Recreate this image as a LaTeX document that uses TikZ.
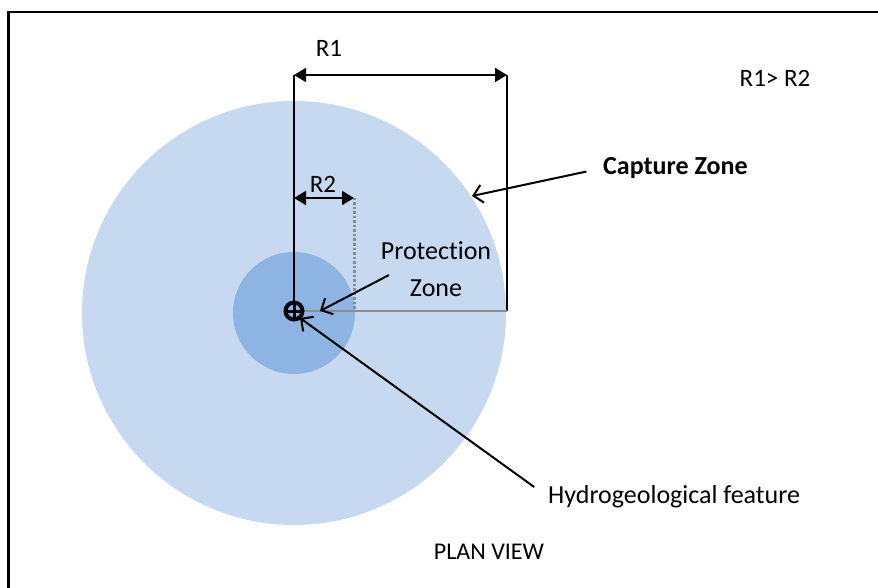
\documentclass[tikz,border=0pt]{standalone}
\usepackage{fontspec}
\setmainfont{Carlito}[Ligatures=NoCommon]
\usetikzlibrary{arrows.meta}
\definecolor{capturezone}{HTML}{C6D9F1}
\definecolor{protectzone}{HTML}{8EB4E3}
\definecolor{guidegray}{HTML}{8C8C8C}
\newcommand{\bigfont}{\fontsize{26}{31}\selectfont}
\newcommand{\smallfont}{\fontsize{25}{30}\selectfont}
\tikzset{
	biglabel/.style={font=\bigfont, inner sep=0pt},
	smalllabel/.style={font=\smallfont, inner sep=0pt},
	pointer/.style={line width=2pt, -{Straight Barb[length=9pt, width=18pt, line width=2pt]}},
	radius arrow/.style={line width=2pt, {Triangle[length=12pt, width=14pt]}-{Triangle[length=12pt, width=14pt]}},
}

\begin{document}
\begin{tikzpicture}[x=1pt,y=-1pt]
	% Page frame; right and bottom edges run off the page.
	\clip (0,0) rectangle (878,588);
	\fill[white] (0,0) rectangle (878,588);
	\draw[line width=2.5pt] (8.5,12) rectangle (900,620);

	% Zones around the feature.
	\fill[capturezone] (294,313) circle[radius=212];
	\fill[protectzone] (294,313) circle[radius=61];

	% Guides for the two radii.
	\coordinate (well) at (294,311);
	\coordinate (r1 left) at (294,75);
	\coordinate (r1 right) at (507,75);
	\coordinate (r1 base) at (507,311);
	\coordinate (r2 left) at (294,198);
	\coordinate (r2 right) at (354,198);
	\coordinate (r2 base) at (354,311);
	\draw[line width=1.5pt] (r1 left) -- (well);
	\draw[line width=1.5pt] (r1 right) -- (r1 base);
	\draw[guidegray, line width=2pt] (well) -- (r1 base);
	\draw[guidegray, line width=3pt, dash pattern=on 2.5pt off 2pt] (r2 right) -- (r2 base);
	\draw[radius arrow] (r1 left) -- (r1 right);
	\draw[radius arrow] (r2 left) -- (r2 right);

	% Hydrogeological feature symbol.
	\draw[line width=4pt] (well) circle[radius=8.5];
	\draw[line width=3pt] (285,311) -- (303,311) (294,302) -- (294,320);

	% Labels.
	\node[smalllabel] (r1 label) at (329,48) {R1};
	\node[smalllabel] (r2 label) at (323,184) {R2};
	\node[smalllabel] (ratio) at (775,78) {R1> R2};
	\node[biglabel, font=\bigfont\bfseries, anchor=west] (capture) at (603,168) {Capture Zone};
	\node[biglabel] (protection) at (436,251) {Protection};
	\node[biglabel] (protection2) at (436,288) {Zone};
	\node[biglabel, anchor=west] (feature) at (548,497) {Hydrogeological feature};
	\node[font=\fontsize{24}{29}\selectfont, inner sep=0pt] (planview) at (489,552) {PLAN VIEW};

	% Pointers from labels.
	\coordinate (capture tip) at (472,196);
	\coordinate (protection start) at (389,275);
	\coordinate (protection tip) at (320,311);
	\coordinate (feature tip) at (300,318);
	\draw[pointer, shorten <=17pt] (capture.west) -- (capture tip);
	\draw[pointer] (protection start) -- (protection tip);
	\draw[pointer, shorten <=17pt] (feature.west) -- (feature tip);
\end{tikzpicture}
\end{document}
